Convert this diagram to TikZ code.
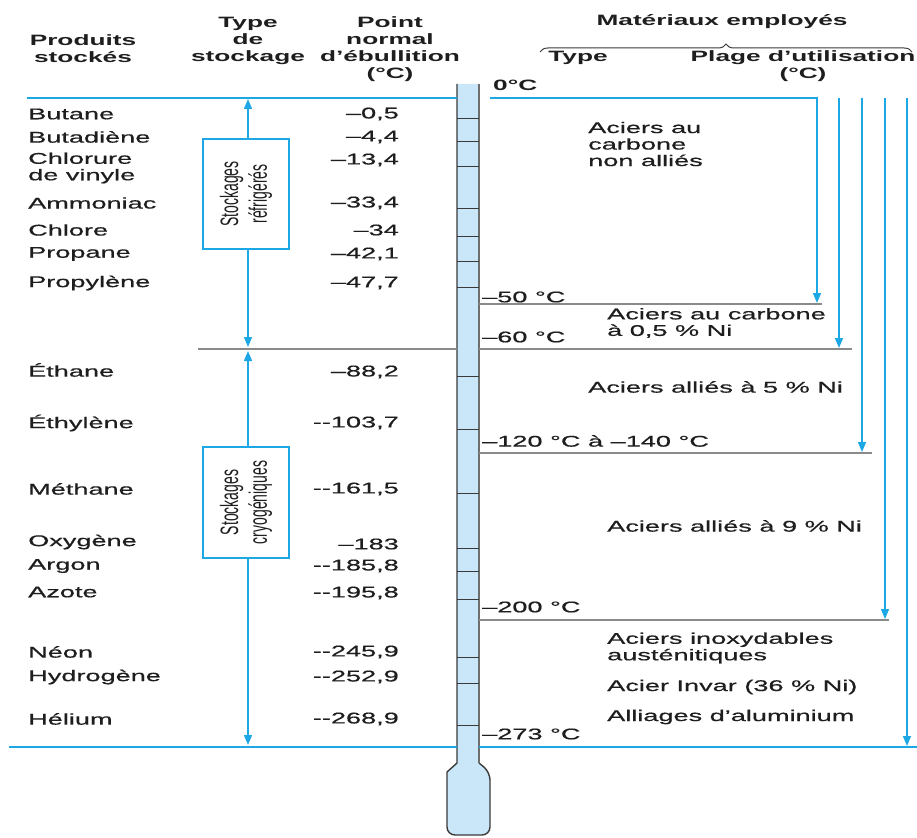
\documentclass[tikz,border=0pt]{standalone}
\usepackage{fontspec}
\setmainfont[FakeStretch=1.75, UprightFeatures={FakeBold=0.6}]{Liberation Sans}
\newfontfamily\rotfont{Liberation Sans}
\usetikzlibrary{arrows.meta,decorations.pathreplacing}
\definecolor{cblue}{HTML}{1BA8E4}
\definecolor{tubefill}{HTML}{C9E7F8}
\definecolor{txt}{HTML}{1E1E1E}
\definecolor{gline}{HTML}{8A8A8A}
\definecolor{dgray}{HTML}{3A3A3A}
\begin{document}
\begin{tikzpicture}[x=1pt,y=-1pt,
  lbl/.style={inner sep=0pt, text=txt, font=\fontsize{15.5}{16.5}\selectfont, yshift=-1pt},
  hdr/.style={inner sep=0pt, text=txt, font=\fontsize{15}{17}\selectfont\bfseries, align=center},
  prod/.style={lbl, anchor=west, align=left},
  val/.style={lbl, anchor=east},
  temp/.style={lbl, anchor=west},
  mat/.style={lbl, anchor=west, align=left},
  bline/.style={draw=cblue, line width=1.3pt},
  gl/.style={draw=gline, line width=1.2pt},
  barr/.style={draw=cblue, line width=1.5pt, line join=miter, -{Triangle[width=8pt,length=10pt]}},
  darr/.style={draw=cblue, line width=1.5pt, {Triangle[width=8pt,length=10pt]}-{Triangle[width=8pt,length=10pt]}},
  sbox/.style={draw=cblue, line width=1.5pt, fill=white, minimum width=86pt, inner sep=0pt},
  rlbl/.style={inner sep=0pt, text=txt, font=\rotfont\fontsize{14}{16}\selectfont, align=center, xscale=1.8, rotate=90},
  tick/.style={draw=dgray, line width=1pt}
]
\useasboundingbox (0,0) rectangle (917,837);

% ---------- thermometer ----------
\fill[tubefill] (457,84) -- (457,763) -- (447,772) [rounded corners=8pt] -- (447,835) -- (490,835) -- (490,772) [sharp corners] -- (479,763) -- (479,84) -- cycle;
\draw[dgray, line width=1.4pt] (457,84) -- (457,763) -- (447,772) [rounded corners=8pt] -- (447,835) -- (490,835) -- (490,772) [sharp corners] -- (479,763);
\draw[gline!80!black, line width=1.6pt] (479,84) -- (479,763);
\foreach \yy in {119,142,167,208,236,261,287,376,429,493,548,571,599,657,683,725}
  \draw[tick] (457,\yy) -- (479,\yy);

% ---------- horizontal lines ----------
\draw[bline] (27,98) -- (457,98);
\draw[bline] (9,747) -- (457,747);
\draw[bline] (479,747) -- (917,747);
\draw[gl] (479,304) -- (822,304);
\draw[gl] (198,349) -- (457,349);
\draw[gl] (479,349) -- (852,349);
\draw[gl] (479,453) -- (872,453);
\draw[gl] (479,620) -- (889,620);

% ---------- right arrows ----------
\coordinate (r0s) at (490,98);
\coordinate (r1c) at (817,98);
\coordinate (r1e) at (817,303);
\coordinate (r2s) at (839,98);
\coordinate (r2e) at (839,348);
\coordinate (r3s) at (862,98);
\coordinate (r3e) at (862,452);
\coordinate (r4s) at (885,98);
\coordinate (r4e) at (885,619);
\coordinate (r5s) at (907,98);
\coordinate (r5e) at (907,746);
\draw[barr] (r0s) -- (r1c) -- (r1e);
\draw[barr] (r2s) -- (r2e);
\draw[barr] (r3s) -- (r3e);
\draw[barr] (r4s) -- (r4e);
\draw[barr] (r5s) -- (r5e);

% ---------- storage type arrows and boxes ----------
\coordinate (a1t) at (248,99);
\coordinate (a1b) at (248,347);
\coordinate (a2t) at (248,351);
\coordinate (a2b) at (248,745);
\draw[darr] (a1t) -- (a1b);
\draw[darr] (a2t) -- (a2b);
\node[sbox, minimum height=110pt] (box1) at (246,194) {};
\node[sbox, minimum height=111pt] (box2) at (246,502.5) {};
\begin{scope}[shift={(box1.center)}]
  \node[rlbl] (rt1) at (0,0) {Stockages\\réfrigérés};
\end{scope}
\begin{scope}[shift={(box2.center)}]
  \node[rlbl] (rt2) at (0,0) {Stockages\\cryogéniques};
\end{scope}

% ---------- headers ----------
\node[hdr] (hprod) at (83,49) {Produits\\stockés};
\node[hdr] (htype) at (248,41) {Type\\de\\stockage};
\node[hdr] (hpoint) at (390,49) {Point\\normal\\d’ébullition\\(°C)};
\node[hdr] (hmat) at (722,22) {Matériaux employés};
\node[hdr] (hmtype) at (578,58) {Type};
\node[hdr] (hplage) at (803,66) {Plage d’utilisation\\(°C)};
\draw[decorate, decoration={brace, amplitude=8pt}, draw=dgray, line width=1pt] (540,52) -- (912,52);
\node[hdr, anchor=west] (t0) at (493,85) {0°C};

% ---------- products ----------
\node[prod] (p1) at (28,113) {Butane};
\node[prod] (p2) at (28,136) {Butadiène};
\node[prod] (p3) at (28,167) {Chlorure\\de vinyle};
\node[prod] (p4) at (28,202) {Ammoniac};
\node[prod] (p5) at (28,229) {Chlore};
\node[prod] (p6) at (28,253) {Propane};
\node[prod] (p7) at (28,282) {Propylène};
\node[prod] (p8) at (28,369) {Éthane};
\node[prod] (p9) at (28,422) {Éthylène};
\node[prod] (p10) at (28,488) {Méthane};
\node[prod] (p11) at (28,541) {Oxygène};
\node[prod] (p12) at (28,565) {Argon};
\node[prod] (p13) at (28,591) {Azote};
\node[prod] (p14) at (28,651) {Néon};
\node[prod] (p15) at (28,676) {Hydrogène};
\node[prod] (p16) at (28,718) {Hélium};

% ---------- boiling points ----------
\node[val] (v1) at (399,113) {–0,5};
\node[val] (v2) at (399,136) {–4,4};
\node[val] (v3) at (399,159) {–13,4};
\node[val] (v4) at (399,202) {–33,4};
\node[val] (v5) at (399,229) {–34};
\node[val] (v6) at (399,253) {–42,1};
\node[val] (v7) at (399,282) {–47,7};
\node[val] (v8) at (399,371) {–88,2};
\node[val] (v9) at (399,422) {-\kern0pt-103,7};
\node[val] (v10) at (399,488) {-\kern0pt-161,5};
\node[val] (v11) at (399,543) {–183};
\node[val] (v12) at (399,565) {-\kern0pt-185,8};
\node[val] (v13) at (399,592) {-\kern0pt-195,8};
\node[val] (v14) at (399,651) {-\kern0pt-245,9};
\node[val] (v15) at (399,676) {-\kern0pt-252,9};
\node[val] (v16) at (399,718) {-\kern0pt-268,9};

% ---------- temperature labels ----------
\node[temp] (t50) at (482,296) {–50 °C};
\node[temp] (t60) at (482,336) {–60 °C};
\node[temp] (t120) at (482,440) {–120 °C à –140 °C};
\node[temp] (t200) at (482,606) {–200 °C};
\node[temp] (t273) at (482,733) {–273 °C};

% ---------- materials ----------
\node[mat] (m1) at (588,143) {Aciers au\\carbone\\non alliés};
\node[mat] (m2) at (607,322) {Aciers au carbone\\à 0,5 \% Ni};
\node[mat] (m3) at (588,386) {Aciers alliés à 5 \% Ni};
\node[mat] (m4) at (607,525) {Aciers alliés à 9 \% Ni};
\node[mat] (m5) at (607,647) {Aciers inoxydables\\austénitiques};
\node[mat] (m6) at (607,686) {Acier Invar (36 \% Ni)};
\node[mat] (m7) at (607,716) {Alliages d’aluminium};
\end{tikzpicture}
\end{document}
